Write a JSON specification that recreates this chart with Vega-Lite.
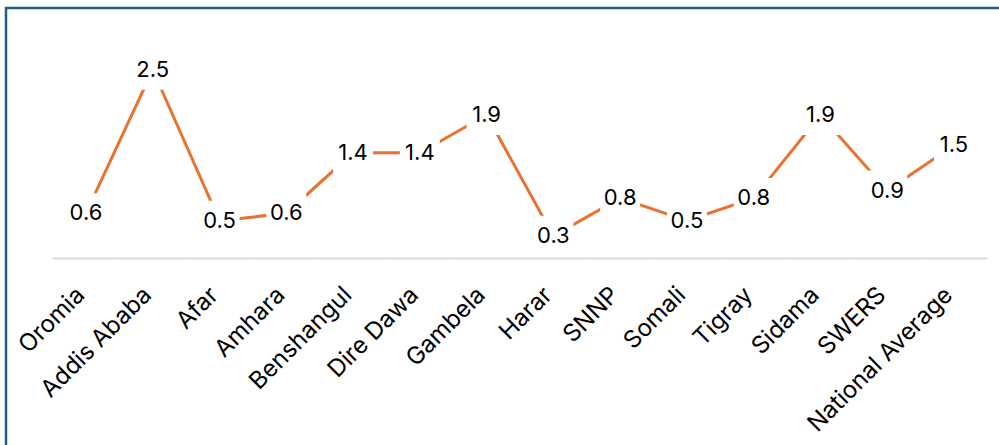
{
  "$schema": "https://vega.github.io/schema/vega-lite/v6.json",
  "autosize": {"type": "none"},
  "padding": {"left": 6, "top": 8, "right": -35, "bottom": -13},
  "width": 1028,
  "height": 450,
  "background": "white",
  "config": {
    "view": {"stroke": "#1F5F86", "strokeWidth": 2.5},
    "font": "Inter"
  },
  "data": {
    "values": [
      {"region": "Oromia", "value": 0.6},
      {"region": "Addis Ababa", "value": 2.5},
      {"region": "Afar", "value": 0.5},
      {"region": "Amhara", "value": 0.6},
      {"region": "Benshangul", "value": 1.4},
      {"region": "Dire Dawa", "value": 1.4},
      {"region": "Gambela", "value": 1.9},
      {"region": "Harar", "value": 0.3},
      {"region": "SNNP", "value": 0.8},
      {"region": "Somali", "value": 0.5},
      {"region": "Tigray", "value": 0.8},
      {"region": "Sidama", "value": 1.9},
      {"region": "SWERS", "value": 0.9},
      {"region": "National Average", "value": 1.5}
    ]
  },
  "encoding": {
    "x": {
      "field": "region",
      "type": "nominal",
      "sort": null,
      "title": null,
      "scale": {"type": "band", "paddingInner": 0, "paddingOuter": 0.698},
      "axis": {
        "orient": "bottom",
        "offset": -196,
        "domain": false,
        "ticks": false,
        "labelAngle": -45,
        "labelAlign": "right",
        "labelBaseline": "alphabetic",
        "labelFont": "Inter",
        "labelFontSize": 24,
        "labelFontWeight": 400,
        "labelColor": "#000000",
        "labelPadding": 34,
        "labelOverlap": false,
        "labelLimit": 0
      }
    },
    "y": {
      "field": "value",
      "type": "quantitative",
      "scale": {"domain": [-2.642, 3.318], "nice": false, "zero": false},
      "axis": null
    }
  },
  "layer": [
    {
      "mark": {"type": "rect", "fill": null, "stroke": "#D9D9D9", "strokeWidth": 2},
      "encoding": {
        "y": {"datum": 0},
        "y2": {"datum": 0}
      }
    },
    {
      "mark": {"type": "line", "color": "#E97132", "strokeWidth": 3}
    },
    {
      "mark": {"type": "point", "shape": "square", "filled": true, "color": "white", "opacity": 1, "size": 1600}
    },
    {
      "mark": {"type": "text", "font": "Inter", "fontSize": 22, "color": "#000000", "baseline": "middle", "align": "center"},
      "encoding": {"text": {"field": "value", "type": "quantitative", "format": ".1f"}}
    }
  ]
}
